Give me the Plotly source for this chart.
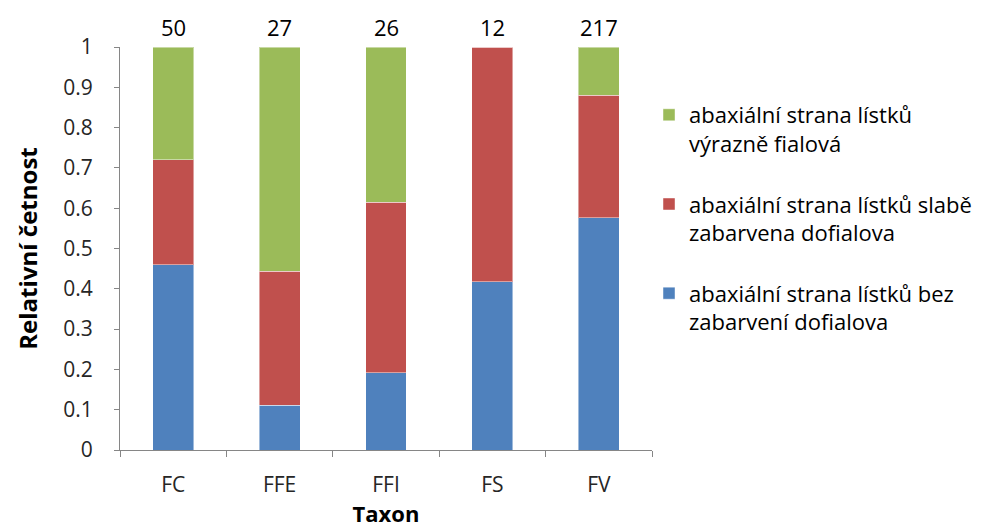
import plotly.graph_objects as go

categories = ["FC", "FFE", "FFI", "FS", "FV"]
counts = [50, 27, 26, 12, 217]
bez = [0.46, 0.111, 0.192, 0.417, 0.576]
slabe = [0.26, 0.333, 0.423, 0.583, 0.304]
vyrazne = [0.28, 0.556, 0.385, 0.0, 0.12]

names = [
    "abaxiální strana lístků bez<br>zabarvení dofialova",
    "abaxiální strana lístků slabě<br>zabarvena dofialova",
    "abaxiální strana lístků<br>výrazně fialová",
]
colors = ["#4F81BD", "#C0504D", "#9BBB59"]
ranks = [3, 2, 1]

FONT = "'Open Sans', sans-serif"
fig = go.Figure()
for i, (vals, name, col) in enumerate(zip([bez, slabe, vyrazne], names, colors)):
    fig.add_trace(go.Bar(
        x=categories, y=vals, name=name, marker_color=col,
        marker_line=dict(color="rgba(255,255,255,0.45)", width=1),
        legendgroup=f"g{i}", legendrank=ranks[i],
    ))

for c, n in zip(categories, counts):
    fig.add_annotation(x=c, y=1, xref="x", yref="y", text=str(n), showarrow=False,
                       yanchor="bottom", yshift=3, font=dict(family=FONT, size=22, color="#000000"))

fig.update_layout(
    barmode="stack",
    bargap=0.615,
    width=981, height=520,
    margin=dict(l=112, r=334, t=39, b=78),
    paper_bgcolor="white", plot_bgcolor="white",
    font=dict(family=FONT, size=21, color="#262626"),
    legend=dict(x=0.9944, y=0.8834, xanchor="left", yanchor="top",
                traceorder="grouped", tracegroupgap=29, valign="top",
                font=dict(family=FONT, size=22, color="#000000"),
                itemwidth=30),
    showlegend=True,
)
fig.update_yaxes(range=[0, 1], dtick=0.1, tickformat="~g", automargin=False,
                 showgrid=False, zeroline=False, showline=True, linecolor="#868686", linewidth=1,
                 ticks="outside", ticklen=5, tickcolor="#868686", ticklabelstandoff=17,
                 title=dict(text="<b>Relativní četnost</b>", font=dict(family=FONT, size=24, color="#000000"), standoff=18),
                 tickfont=dict(size=21, color="#262626"))
fig.update_xaxes(range=[-0.5, 4.5], showgrid=False, showline=True, linecolor="#868686", linewidth=1,
                 automargin=False,
                 ticks="outside", ticklen=6, tickcolor="#868686", tickson="boundaries", ticklabelstandoff=16,
                 title=dict(text="<b>Taxon</b>", font=dict(family=FONT, size=22, color="#000000"), standoff=13),
                 tickfont=dict(size=21, color="#262626"))

fig.write_html("out.html")
